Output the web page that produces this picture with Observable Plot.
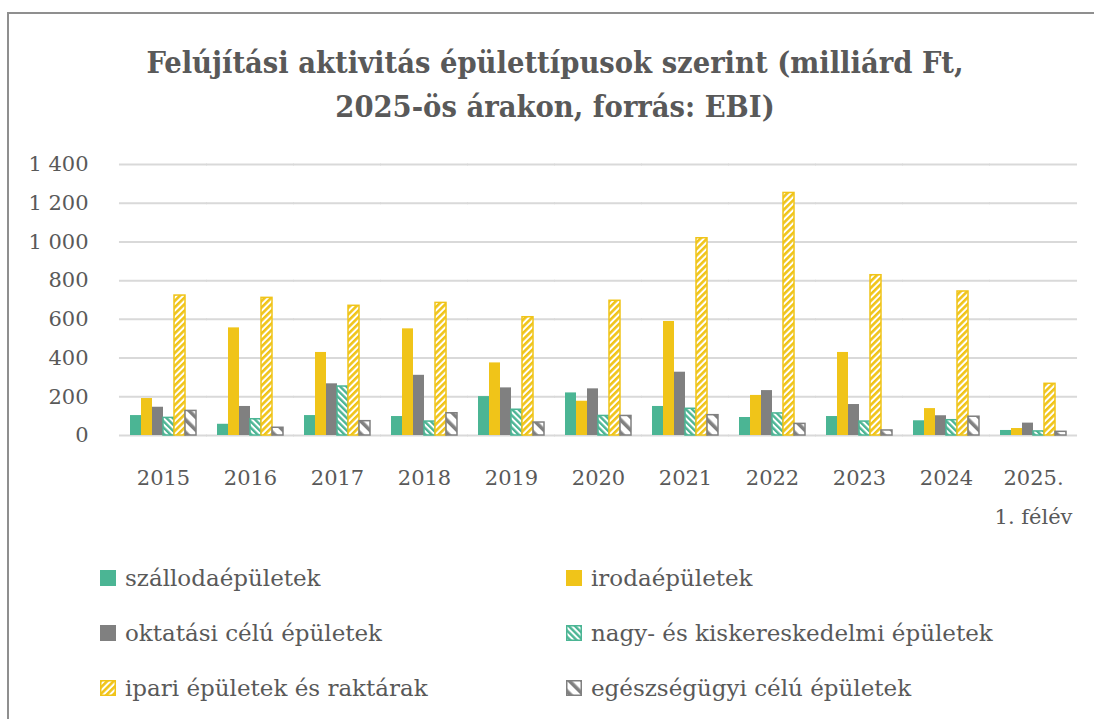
<!DOCTYPE html>
<html><head><meta charset="utf-8">
<script src="https://cdn.jsdelivr.net/npm/d3@7"></script>
<script src="https://cdn.jsdelivr.net/npm/@observablehq/plot@0.6"></script>
<style>
html,body{margin:0;padding:0;background:#fff;overflow:hidden;width:1094px;height:719px;position:relative}
#frame{position:absolute;left:7px;top:12px;width:1300px;height:900px;border-left:2px solid #8f8f8f;border-top:2px solid #8f8f8f}
#title{position:absolute;left:8px;width:1094px;top:40px;text-align:center;font-family:"DejaVu Serif";font-stretch:condensed;font-weight:bold;font-size:30.5px;line-height:44px;color:#595959}
#chart{position:absolute;left:0;top:145px}
.item{position:absolute;display:flex;align-items:center;font-family:"DejaVu Serif";font-size:23px;color:#595959;white-space:nowrap}
.item svg{margin-right:9px}
</style></head>
<body>
<svg width="0" height="0" style="position:absolute">
<defs>
<pattern id="pNagy" patternUnits="userSpaceOnUse" width="4.4" height="4.4" patternTransform="rotate(-45)">
<rect width="4.4" height="4.4" fill="#fff"/><rect width="2.4" height="4.4" fill="#4BB594"/></pattern>
<pattern id="pIpari" patternUnits="userSpaceOnUse" width="4.6" height="4.6" patternTransform="rotate(45)">
<rect width="4.6" height="4.6" fill="#fff"/><rect width="2.6" height="4.6" fill="#F0C419"/></pattern>
<pattern id="pEgesz" patternUnits="userSpaceOnUse" width="9" height="9" patternTransform="rotate(-45)">
<rect width="9" height="9" fill="#fff"/><rect width="3.6" height="9" fill="#808080"/></pattern>
</defs></svg>
<div id="frame"></div>
<div id="title">Felújítási aktivitás épülettípusok szerint (milliárd Ft,<br>2025-ös árakon, forrás: EBI)</div>
<div id="chart"></div>
<div id="legend"></div>
<script>
const years = ["2015","2016","2017","2018","2019","2020","2021","2022","2023","2024","2025.\n1. félév"];
const series = ["szállodaépületek","irodaépületek","oktatási célú épületek","nagy- és kiskereskedelmi épületek","ipari épületek és raktárak","egészségügyi célú épületek"];
const szalloda = [103,58,103,98,201,220,150,93,98,76,26];
const iroda    = [191,556,429,551,375,177,589,207,429,139,36];
const oktatasi = [146,150,267,311,246,241,327,232,160,102,64];
const nagyKis  = [91,84,253,72,133,101,138,114,72,79,21];
const ipari    = [723,711,670,685,611,696,1019,1253,828,744,267];
const egeszseg = [127,40,74,115,67,101,105,60,26,97,19];
const yTicks = [0,200,400,600,800,1000,1200,1400];

const values = [szalloda, iroda, oktatasi, nagyKis, ipari, egeszseg];
const fills = ["#4BB594","#F0C419","#808080","url(#pNagy)","url(#pIpari)","url(#pEgesz)"];
const strokes = ["none","none","none","#4BB594","#F0C419","#808080"];
const data = years.flatMap((y,i)=>series.map((s,j)=>({year:y, series:s, value:values[j][i]})));
const fmt = d => d3.format(",")(d).replace(/,/g," ");

const W = 1094, ML = 118, MR = 16, PADIN = 0.2;
const halfGap = (W - ML - MR) / years.length * PADIN / 2;

const plot = Plot.plot({
  width:W, height:400,
  marginLeft:ML, marginRight:MR, marginTop:19, marginBottom:110,
  fx:{domain:years, paddingInner:PADIN, paddingOuter:PADIN/2, label:null, axis:null},
  x:{domain:series, padding:0, axis:null},
  y:{domain:[0,1400], axis:null},
  style:{fontFamily:"DejaVu Serif", fontSize:"21px", color:"#595959", background:"transparent"},
  marks:[
    Plot.ruleY(yTicks, {stroke:"#d9d9d9", strokeWidth:2, strokeOpacity:1, insetLeft:-halfGap-0.3, insetRight:-halfGap-0.3}),
    ...series.map((s,j)=>Plot.barY(data.filter(d=>d.series===s), {
      fx:"year", x:"series", y:"value", fill:fills[j], stroke:strokes[j], strokeWidth:1.5, inset:0
    })),
    Plot.axisY(yTicks, {tickSize:0, tickPadding:40, tickFormat:fmt, fontSize:21, fill:"#595959", label:null}),
    Plot.axisFx({anchor:"bottom", tickSize:0, tickPadding:22, fontSize:21, fill:"#595959", lineHeight:1.86, label:null})
  ]
});
document.getElementById("chart").appendChild(plot);

const legendPos = [[100,578],[566,578],[100,633],[566,633],[100,688],[566,688]];
const legend = document.getElementById("legend");
series.forEach((s,j)=>{
  const div = document.createElement("div");
  div.className = "item";
  div.style.left = legendPos[j][0] + "px";
  div.style.top = (legendPos[j][1] - 15) + "px";
  div.style.height = "30px";
  const sw = strokes[j] === "none";
  div.innerHTML = `<svg width="16" height="16"><rect x="${sw?0:0.75}" y="${sw?0:0.75}" width="${sw?16:14.5}" height="${sw?16:14.5}" fill="${fills[j]}" stroke="${strokes[j]}" stroke-width="1.5"/></svg><span>${s}</span>`;
  legend.appendChild(div);
});
</script>
</body></html>
